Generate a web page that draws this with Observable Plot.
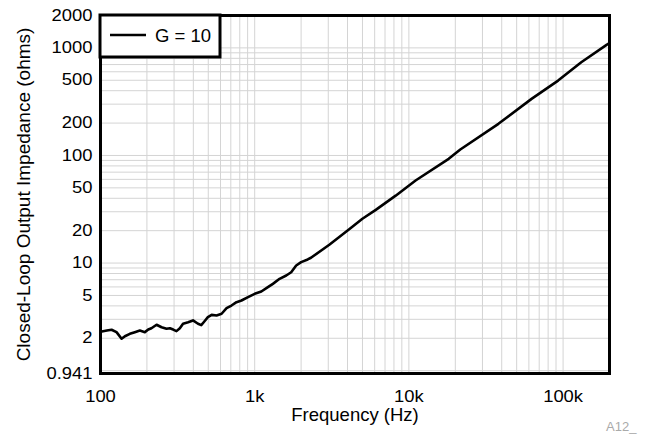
<!DOCTYPE html>
<html>
<head>
<meta charset="utf-8">
<script src="https://cdn.jsdelivr.net/npm/d3@7"></script>
<script src="https://cdn.jsdelivr.net/npm/@observablehq/plot@0.6"></script>
<style>
  html, body { margin: 0; padding: 0; background: #fff; }
  #chart { position: relative; width: 653px; height: 445px; }
  #note { position: absolute; left: 606px; top: 419px; font: 13px "Liberation Sans", Arial, sans-serif; color: #aaaaaa; }
</style>
</head>
<body>
<div id="chart"><div id="note">A12_</div></div>
<script>
// Frequency (Hz)
const freq = [100, 102, 110, 118, 127, 137, 144, 155, 167, 180, 194, 204, 214, 231, 249, 268, 282, 296, 311, 327, 343, 370, 398, 429, 450, 470, 497, 526, 566, 610, 657, 707, 762, 821, 905, 1000, 1104, 1218, 1312, 1450, 1601, 1725, 1858, 2001, 2207, 2317, 3047, 4101, 4996, 6099, 8208, 11050, 18120, 21550, 38080, 62450, 92840, 131200, 191400, 200000];
// Closed-loop output impedance, G = 10 (ohms)
const impedance = [2.31, 2.31, 2.36, 2.40, 2.28, 1.98, 2.09, 2.20, 2.28, 2.36, 2.28, 2.41, 2.48, 2.67, 2.53, 2.45, 2.48, 2.41, 2.33, 2.48, 2.73, 2.82, 2.93, 2.73, 2.65, 2.85, 3.14, 3.30, 3.26, 3.38, 3.81, 4.03, 4.33, 4.49, 4.82, 5.18, 5.44, 5.97, 6.41, 7.14, 7.66, 8.22, 9.49, 10.2, 10.8, 11.2, 14.8, 20.6, 25.8, 31.2, 42.3, 58.5, 93.1, 113.6, 196.9, 336, 497, 736, 1068, 1110];

const seriesName = "G = 10";
const xTitle = "Frequency (Hz)";
const yTitle = "Closed-Loop Output Impedance (ohms)";
const xTicks = [100, 1000, 10000, 100000];
const xTickLabels = ["100", "1k", "10k", "100k"];
const yTicks = [0.941, 2, 5, 10, 20, 50, 100, 200, 500, 1000, 2000];
const yTickLabels = ["0.941", "2", "5", "10", "20", "50", "100", "200", "500", "1000", "2000"];
const xDomain = [100, 200000];
const yDomain = [0.941, 2000];

const data = freq.map((f, i) => ({f, z: impedance[i]}));
const xLab = new Map(xTicks.map((t, i) => [t, xTickLabels[i]]));
const yLab = new Map(yTicks.map((t, i) => [t, yTickLabels[i]]));

// minor log grid (1..9 per decade) inside the domains
const xGrid = [], yGrid = [];
for (let e = 2; e <= 5; e++) for (let m = 1; m <= 9; m++) { const v = m * 10 ** e; if (v >= xDomain[0] && v <= xDomain[1]) xGrid.push(v); }
for (let e = 0; e <= 3; e++) for (let m = 1; m <= 9; m++) { const v = m * 10 ** e; if (v >= 1 && v <= yDomain[1]) yGrid.push(v); }

const font = '"Liberation Sans", Arial, sans-serif';
const plot = Plot.plot({
  width: 653,
  height: 445,
  marginLeft: 100,
  marginRight: 44,
  marginTop: 15,
  marginBottom: 72,
  style: {fontFamily: font, fontSize: "16.3px", color: "#000", background: "#fff"},
  x: {type: "log", domain: xDomain, axis: null},
  y: {type: "log", domain: yDomain, axis: null},
  marks: [
    Plot.gridX(xGrid, {stroke: "#d4d4d4", strokeOpacity: 1, strokeWidth: 1}),
    Plot.gridY(yGrid, {stroke: "#d4d4d4", strokeOpacity: 1, strokeWidth: 1}),
    Plot.line(data, {x: "f", y: "z", stroke: "#000", strokeWidth: 2.6, curve: "linear"}),
    Plot.frame({stroke: "#000", strokeWidth: 3}),
    Plot.text(xTicks, {x: d => d, text: d => xLab.get(d), frameAnchor: "bottom", lineAnchor: "middle",
      dy: 23.5, fill: "#000", className: "ticklab"}),
    Plot.text(yTicks, {y: d => d, text: d => yLab.get(d), frameAnchor: "left", textAnchor: "end",
      lineAnchor: "middle", dx: -8, fill: "#000", className: "ticklab"}),
    Plot.text([xTitle], {text: d => d, frameAnchor: "bottom", textAnchor: "middle", lineAnchor: "middle", dy: 42,
      fontSize: 18.5, fill: "#000"}),
    Plot.text([yTitle], {text: d => d, frameAnchor: "left", textAnchor: "middle", lineAnchor: "middle",
      rotate: -90, dx: -77, fontSize: 19, fill: "#000"})
  ]
});
document.getElementById("chart").prepend(plot);

// horizontally stretched tick labels, as in the reference
d3.select(plot).selectAll(".ticklab text").each(function () {
  const w = this.getComputedTextLength();
  this.setAttribute("textLength", (w * 1.13).toFixed(2));
  this.setAttribute("lengthAdjust", "spacingAndGlyphs");
});

// legend box
const svg = d3.select(plot);
const lg = svg.append("g");
lg.append("rect").attr("x", 100).attr("y", 15).attr("width", 120).attr("height", 42)
  .attr("fill", "#fff").attr("stroke", "#000").attr("stroke-width", 3);
lg.append("line").attr("x1", 110).attr("x2", 146).attr("y1", 35).attr("y2", 35)
  .attr("stroke", "#000").attr("stroke-width", 2.6);
lg.append("text").attr("x", 155).attr("y", 42).attr("font-size", 18.5).attr("font-family", font)
  .attr("text-anchor", "start").attr("fill", "#000").text(seriesName);
</script>
</body>
</html>
